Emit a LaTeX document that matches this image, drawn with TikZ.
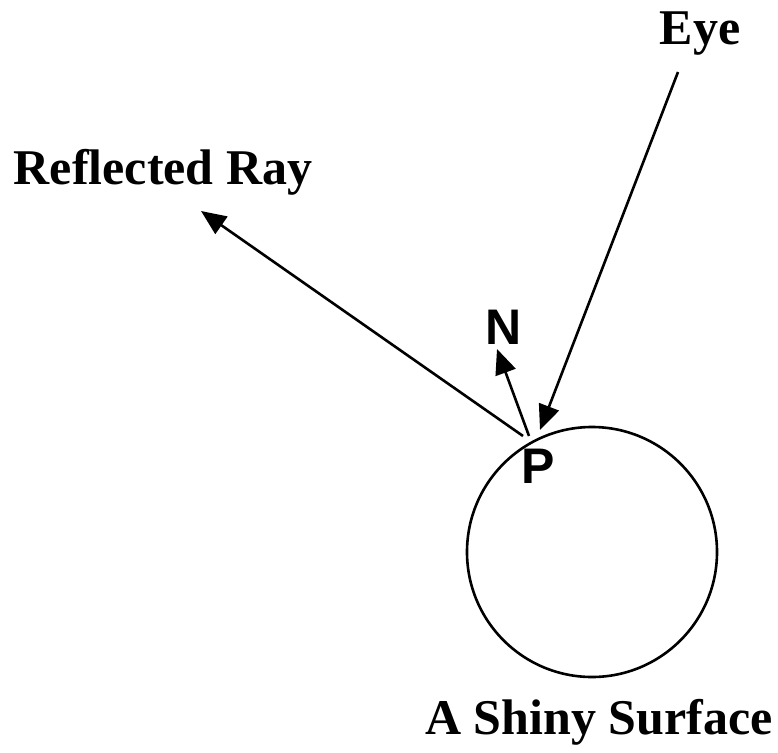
\documentclass[tikz,border=0pt]{standalone}
\usepackage{fontspec}
\setmainfont{Liberation Serif}
\newfontfamily\arialfont{Liberation Sans}
\usetikzlibrary{arrows.meta}

\begin{document}
\begin{tikzpicture}[>={Triangle[length=25pt,width=21pt]}, x=1pt, y=-1pt,
  line width=2.6pt,
  lbl/.style={font=\fontsize{50}{60}\selectfont\bfseries, inner sep=0pt, anchor=base},
  pt/.style={font=\arialfont\fontsize{50}{60}\selectfont\bfseries, inner sep=0pt}]
  \useasboundingbox (0,0) rectangle (778,752);

  % Superficie
  \draw (592,552) circle[radius=125];

  % Punti
  \coordinate (eyestart) at (678,72);
  \coordinate (hitP) at (540,430);
  \coordinate (reflstart) at (523,436);
  \coordinate (refltip) at (201,211);
  \coordinate (normstart) at (529,436);
  \coordinate (normtip) at (497,349);

  % Raggi
  \draw[->] (eyestart) -- (hitP);
  \draw[->] (reflstart) -- (refltip);
  \draw[->] (normstart) -- (normtip);

  % Etichette
  \node[lbl] (eye) at (700,45) {Eye};
  \node[lbl] (refl) at (163,184) {Reflected Ray};
  \node[lbl] (surf) at (599,734) {A Shiny Surface};
  \node[pt] (nlabel) at (504,327) {N};
  \node[pt] (plabel) at (538,466) {P};
\end{tikzpicture}
\end{document}
